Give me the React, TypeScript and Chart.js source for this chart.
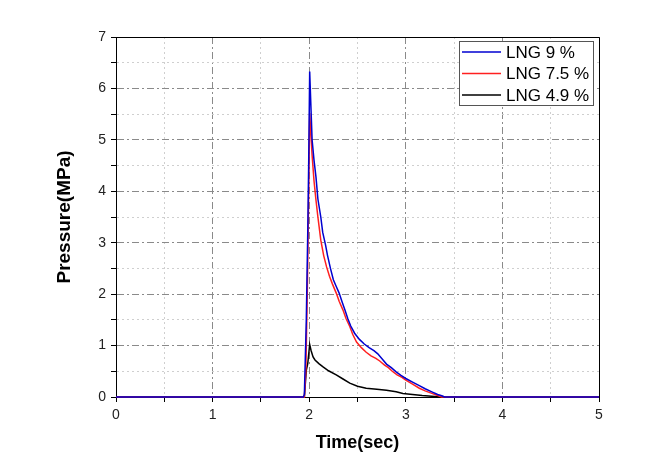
import React, { useEffect, useRef } from "react";
import { Chart, registerables } from "chart.js";

Chart.register(...registerables);

// ---- data ----
const seriesLabels = ["LNG 9 %", "LNG 7.5 %", "LNG 4.9 %"];
const seriesColors = ["#0000d0", "#ff2020", "#000000"];

const timeLng9 = [0, 1.94, 1.95, 1.97, 1.985, 1.995, 2.005, 2.03, 2.05, 2.07, 2.09, 2.12, 2.14, 2.17, 2.19, 2.22, 2.25, 2.28, 2.31, 2.34, 2.37, 2.40, 2.43, 2.47, 2.52, 2.57, 2.62, 2.67, 2.71, 2.76, 2.80, 2.85, 2.90, 2.95, 3.00, 3.07, 3.14, 3.20, 3.27, 3.33, 3.38, 3.40, 5];
const pressureLng9 = [0, 0, 0.05, 1.5, 3.2, 4.6, 6.33, 5.0, 4.6, 4.28, 3.85, 3.5, 3.2, 2.95, 2.75, 2.5, 2.28, 2.15, 2.02, 1.85, 1.69, 1.52, 1.38, 1.24, 1.12, 1.03, 0.96, 0.9, 0.84, 0.73, 0.64, 0.57, 0.49, 0.42, 0.36, 0.29, 0.22, 0.16, 0.1, 0.05, 0.02, 0, 0];

const timeLng75 = [0, 1.95, 1.965, 1.98, 1.99, 2.005, 2.03, 2.05, 2.07, 2.09, 2.12, 2.15, 2.18, 2.21, 2.24, 2.28, 2.31, 2.35, 2.38, 2.42, 2.45, 2.49, 2.54, 2.59, 2.64, 2.69, 2.73, 2.78, 2.82, 2.86, 2.91, 2.96, 3.00, 3.07, 3.14, 3.20, 3.27, 3.33, 3.37, 5];
const pressureLng75 = [0, 0, 0.5, 2.0, 3.3, 5.52, 4.7, 4.2, 3.83, 3.5, 3.05, 2.75, 2.53, 2.35, 2.2, 2.02, 1.86, 1.69, 1.53, 1.37, 1.22, 1.07, 0.96, 0.87, 0.8, 0.75, 0.7, 0.62, 0.57, 0.5, 0.43, 0.38, 0.33, 0.25, 0.17, 0.12, 0.07, 0.03, 0, 0];

const timeLng49 = [0, 1.95, 1.97, 1.985, 2.005, 2.02, 2.04, 2.06, 2.10, 2.14, 2.20, 2.28, 2.35, 2.42, 2.50, 2.59, 2.70, 2.80, 2.90, 2.97, 3.07, 3.17, 3.30, 3.36, 5];
const pressureLng49 = [0, 0, 0.52, 0.65, 1.02, 0.9, 0.78, 0.72, 0.65, 0.59, 0.51, 0.43, 0.35, 0.27, 0.21, 0.17, 0.15, 0.13, 0.1, 0.07, 0.05, 0.03, 0.01, 0, 0];

const xMajorTicks = [0, 1, 2, 3, 4, 5];
const yMajorTicks = [0, 1, 2, 3, 4, 5, 6, 7];

const FONT = "'Liberation Sans', Arial, Helvetica, sans-serif";

const zip = (xs: number[], ys: number[]) => xs.map((x, i) => ({ x, y: ys[i] }));

const isMajor = (ctx: any, majors: number[]) =>
  ctx && ctx.tick && majors.includes(ctx.tick.value);

const frameLegendPlugin = {
  id: "frameLegend",
  afterDraw(chart: any) {
    const { ctx, chartArea } = chart;
    const { left, top, right, bottom } = chartArea;
    ctx.save();
    // top & right frame
    ctx.strokeStyle = "#000";
    ctx.lineWidth = 1;
    ctx.setLineDash([]);
    ctx.beginPath();
    ctx.moveTo(left, top + 0.5);
    ctx.lineTo(right + 0.5, top + 0.5);
    ctx.lineTo(right + 0.5, bottom);
    ctx.stroke();

    // legend box
    const bx = right - 140;
    const by = top + 4;
    const bw = 134;
    const bh = 64;
    ctx.fillStyle = "#fff";
    ctx.fillRect(bx, by, bw, bh);
    ctx.strokeStyle = "#555";
    ctx.strokeRect(bx + 0.5, by + 0.5, bw, bh);
    ctx.font = `17px ${FONT}`;
    ctx.textBaseline = "middle";
    ctx.textAlign = "left";
    chart.data.datasets.forEach((ds: any, i: number) => {
      const yy = by + 11 + i * 21.5;
      ctx.strokeStyle = ds.borderColor;
      ctx.lineWidth = 1.5;
      ctx.beginPath();
      ctx.moveTo(bx + 3, yy);
      ctx.lineTo(bx + 42, yy);
      ctx.stroke();
      ctx.fillStyle = "#000";
      ctx.fillText(ds.label, bx + 47, yy + 1);
    });
    ctx.restore();
  },
};

export default function App() {
  const ref = useRef<HTMLCanvasElement | null>(null);

  useEffect(() => {
    if (!ref.current) return;
    const datasets = [
      zip(timeLng9, pressureLng9),
      zip(timeLng75, pressureLng75),
      zip(timeLng49, pressureLng49),
    ].map((data, i) => ({
      label: seriesLabels[i],
      data,
      borderColor: seriesColors[i],
      backgroundColor: seriesColors[i],
      borderWidth: 1.5,
      pointRadius: 0,
      tension: 0,
      fill: false,
      clip: 3,
    }));

    const gridCommon = (majors: number[]) => ({
      color: (c: any) => (isMajor(c, majors) ? "#8a8a8a" : "#cfcfcf"),
      lineWidth: 1,
      tickLength: 5,
      tickColor: "#000",
      tickWidth: 1,
      tickBorderDash: [],
      borderDash: (c: any) => (isMajor(c, majors) ? [7, 3, 2, 3] : [2, 3]),
    });
    const borderCommon = (majors: number[]) => ({
      display: true,
      color: "#000",
      width: 1,
      dash: (c: any) => (isMajor(c, majors) ? [7, 3, 2, 3] : [2, 3]),
    });

    const chart = new Chart(ref.current, {
      type: "line",
      data: { datasets },
      plugins: [frameLegendPlugin],
      options: {
        animation: false,
        responsive: false,
        maintainAspectRatio: false,
        layout: { padding: { left: 49, top: 37, right: 72, bottom: 7 } },
        plugins: { legend: { display: false }, tooltip: { enabled: false } },
        scales: {
          x: {
            type: "linear",
            min: 0,
            max: 5,
            afterFit: (s: any) => {
              s.height = 61;
            },
            ticks: {
              stepSize: 0.5,
              autoSkip: false,
              maxRotation: 0,
              padding: 5,
              color: "#222",
              font: { family: FONT, size: 14 },
              callback: (v: any) => (xMajorTicks.includes(Number(v)) ? String(v) : ""),
            },
            grid: gridCommon(xMajorTicks),
            border: borderCommon(xMajorTicks),
            title: {
              display: true,
              text: "Time(sec)",
              color: "#000",
              font: { family: FONT, size: 18, weight: "bold" },
            },
          },
          y: {
            type: "linear",
            min: 0,
            max: 7,
            afterFit: (s: any) => {
              s.width = 67;
            },
            ticks: {
              stepSize: 0.5,
              autoSkip: false,
              padding: 5,
              color: "#222",
              font: { family: FONT, size: 14 },
              callback: (v: any) => (yMajorTicks.includes(Number(v)) ? String(v) : ""),
            },
            grid: gridCommon(yMajorTicks),
            border: borderCommon(yMajorTicks),
            title: {
              display: true,
              text: "Pressure(MPa)",
              color: "#000",
              font: { family: FONT, size: 19, weight: "bold" },
            },
          },
        },
      } as any,
    });
    return () => chart.destroy();
  }, []);

  return (
    <div style={{ position: "absolute", left: 0, top: 0, width: 671, height: 465, background: "#fff" }}>
      <canvas ref={ref} width={671} height={465} style={{ width: 671, height: 465, display: "block" }} />
    </div>
  );
}
